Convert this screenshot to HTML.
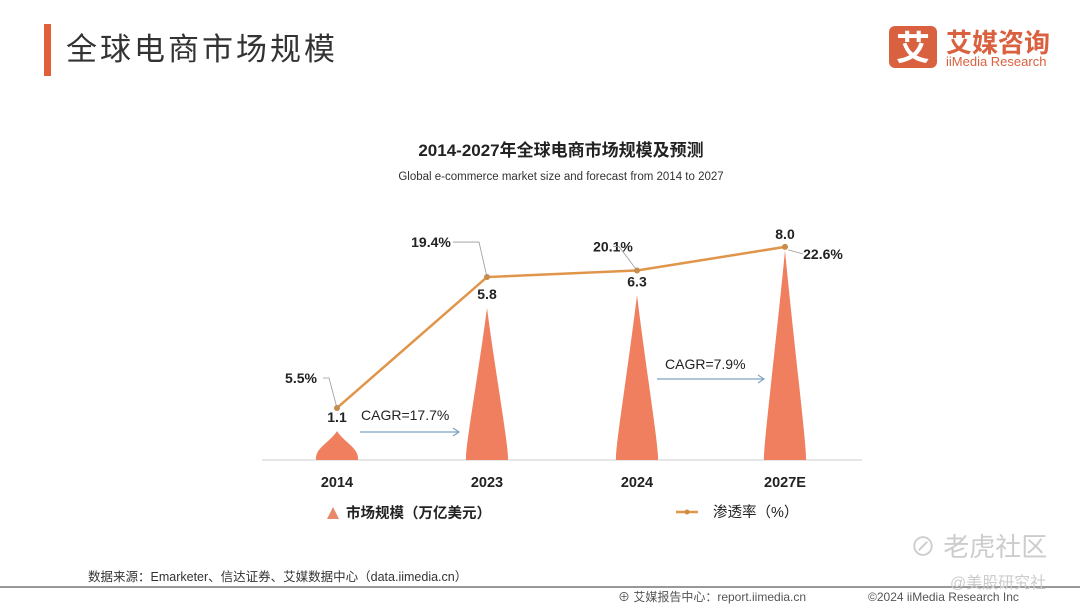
<!DOCTYPE html>
<html><head><meta charset="utf-8"><style>
body{margin:0;width:1080px;height:608px;background:#fff;overflow:hidden;font-family:"Liberation Sans","Noto Sans CJK SC",sans-serif;}
</style></head><body>
<svg width="1080" height="608" viewBox="0 0 1080 608" xmlns="http://www.w3.org/2000/svg" font-family="Liberation Sans, Noto Sans CJK SC, sans-serif">
<rect x="44" y="24" width="7" height="52" fill="#e0603a"/>
<text x="66" y="60" font-size="31" fill="#333" letter-spacing="3">全球电商市场规模</text>
<g>
<rect x="889" y="26" width="48" height="42" rx="6" fill="#d9613f"/>
<text x="913" y="60" font-size="34" fill="#fff" font-weight="bold" text-anchor="middle">艾</text>
<text x="946" y="52" font-size="26" fill="#d9613f" font-weight="bold">艾媒咨询</text>
<text x="946" y="66" font-size="13" fill="#d9613f">iiMedia Research</text>
</g>
<text x="561" y="156" font-size="17" font-weight="bold" fill="#222" text-anchor="middle">2014-2027年全球电商市场规模及预测</text>
<text x="561" y="180" font-size="11.5" fill="#333" text-anchor="middle">Global e-commerce market size and forecast from 2014 to 2027</text>
<line x1="262" y1="460" x2="862" y2="460" stroke="#ddd" stroke-width="1.5"/>
<g id="plot"></g>
<g>
<path d="M327 519 L333 507 L339 519 Z" fill="#e88a6a"/>
<text x="346" y="518" font-size="14.5" font-weight="bold" fill="#222">市场规模（万亿美元）</text>
<line x1="676" y1="512" x2="698" y2="512" stroke="#e0954a" stroke-width="2.5"/>
<circle cx="687" cy="512" r="2.5" fill="#d28a4a"/>
<text x="713" y="517" font-size="14.5" fill="#222">渗透率（%）</text>
</g>
<text x="88" y="581" font-size="12.5" fill="#333">数据来源：Emarketer、信达证券、艾媒数据中心（data.iimedia.cn）</text>
<line x1="0" y1="587" x2="1080" y2="587" stroke="#777" stroke-width="1.5"/>
<text x="618" y="601" font-size="12" fill="#555">⊕ 艾媒报告中心：report.iimedia.cn</text>
<text x="868" y="601" font-size="12" fill="#555">©2024  iiMedia Research  Inc</text>
<text x="910" y="556" font-size="26" fill="#ccc">⊘ 老虎社区</text>
<text x="950" y="588" font-size="16" fill="#ccc">@美股研究社</text>
</svg>
<script>
const categories=["2014","2023","2024","2027E"];
const marketSize=[1.1,5.8,6.3,8.0];
const penetration=[5.5,19.4,20.1,22.6];
const sizeLabels=["1.1","5.8","6.3","8.0"];
const rateLabels=["5.5%","19.4%","20.1%","22.6%"];
const NS="http://www.w3.org/2000/svg";
const g=document.getElementById('plot');
const xS=i=>337+i*150-(i==3?2:0);
const yS=v=>460-v*26.2;
const yP=p=>459.8-p*9.42;
function mk(t,a,txt){const e=document.createElementNS(NS,t);for(const k in a)e.setAttribute(k,a[k]);if(txt)e.textContent=txt;g.appendChild(e);return e;}
categories.forEach((c,i)=>{
 const x=xS(i),top=yS(marketSize[i]),h=460-top;
 const p=mk('path',{d:`M${x-21} 460 C${x-22} 448 ${x-9} ${top+h*0.45} ${x} ${top} C${x+9} ${top+h*0.45} ${x+22} 448 ${x+21} 460 Z`,fill:'#ef7f5f'});
 
 
 const t=mk('text',{x:x,y:487,'font-size':14.5,'font-weight':'bold','text-anchor':'middle',fill:'#222'},c);
 
 
});
let d='';penetration.forEach((p,i)=>{d+=(i?'L':'M')+xS(i)+' '+yP(p);});
const ln=mk('path',{d:d,fill:'none',stroke:'#e0954a','stroke-width':2.5});


penetration.forEach((p,i)=>{
 const c=mk('circle',{cx:xS(i),cy:yP(p),r:3,fill:'#c98a4a'});
 
 
});
const sOff=[[0,14],[0,22],[0,16],[0,-8]];
marketSize.forEach((v,i)=>{
 const t=mk('text',{x:xS(i)+sOff[i][0],y:yP(penetration[i])+sOff[i][1],'font-size':14,'font-weight':'bold','text-anchor':'middle',fill:'#222'},sizeLabels[i]);
 
 
});
const rOff=[[-36,-25],[-56,-30],[-24,-19],[38,12]];
penetration.forEach((p,i)=>{
 const x=xS(i)+rOff[i][0],y=yP(p)+rOff[i][1];
 const t=mk('text',{x:x,y:y,'font-size':14,'font-weight':'bold','text-anchor':'middle',fill:'#222'},rateLabels[i]);
 
 
 const l=mk('path',{d:i==3?`M${xS(i)+3} ${yP(p)+3} L${x-20} ${y-5}`:`M${x+(i==2?0:22)} ${y-5} L${xS(i)-(i==2?18:8)} ${y-5} L${xS(i)} ${yP(p)}`,fill:'none',stroke:'#999','stroke-width':0.8});
 
 
});
function cagr(x1,x2,y,tx,ty,txt,n){
 const a=mk('path',{d:`M${x1} ${y} L${x2} ${y} M${x2-6} ${y-4} L${x2} ${y} L${x2-6} ${y+4}`,fill:'none',stroke:'#7da3c0','stroke-width':1.2});
 
 
 const t=mk('text',{x:tx,y:ty,'font-size':14,fill:'#222'},txt);
 
 
}
cagr(360,459,432,361,420,'CAGR=17.7%','cagr-2014-2023');
cagr(657,764,379,665,369,'CAGR=7.9%','cagr-2024-2027');
</script>
</body></html>
